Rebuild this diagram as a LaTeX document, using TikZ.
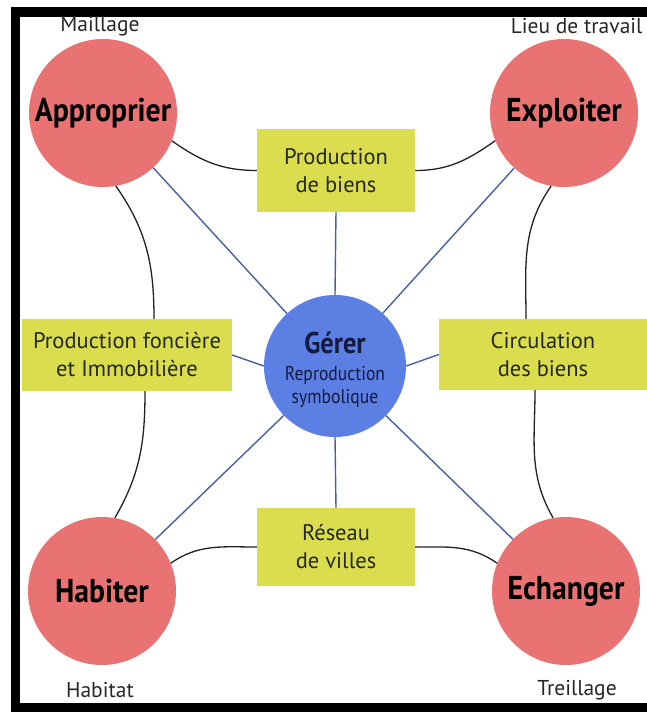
\documentclass[tikz,border=0pt]{standalone}
\usepackage{fontspec}
\setmainfont{PT Sans}
\newfontfamily\cond[FakeStretch=0.9]{PT Sans}
\newfontfamily\condg[FakeStretch=0.88]{PT Sans}
\definecolor{circred}{HTML}{E97272}
\definecolor{circblue}{HTML}{5B7FE3}
\definecolor{boxyel}{HTML}{D9DD4E}
\definecolor{linkblue}{HTML}{4A5FA0}
\definecolor{linkblack}{HTML}{222222}
\definecolor{navytext}{HTML}{151A40}
\begin{document}
\begin{tikzpicture}[x=1pt,y=-1pt,
  pole/.style={circle,fill=circred,minimum size=148pt,inner sep=0pt,text=black,
    font=\cond\bfseries\fontsize{33}{36}\selectfont},
  hub/.style={circle,fill=circblue,minimum size=142pt,inner sep=0pt},
  hubbig/.style={anchor=base,inner sep=0pt,text=navytext,font=\condg\bfseries\fontsize{30}{30}\selectfont},
  hubsmall/.style={anchor=base,inner sep=0pt,text=navytext,font=\condg\fontsize{20}{23}\selectfont},
  prodbox/.style={rectangle,fill=boxyel,inner sep=0pt,align=center,text=black!85,
    font=\fontsize{22.5}{28}\selectfont},
  corner/.style={font=\fontsize{21.5}{24}\selectfont,text=black!85},
  bluelink/.style={draw=linkblue,line width=1.4pt},
  blacklink/.style={draw=linkblack,line width=1.3pt}]
\useasboundingbox (0,0) rectangle (647,713);
% frame
\fill[black] (11,7) rectangle (647,17);
\fill[black] (11,7) rectangle (20,712);
\fill[black] (11,703) rectangle (647,712);

% nodes
\node[pole] (app) at (103,113) {Approprier};
\node[pole] (exp) at (564,113) {Exploiter};
\node[pole] (hab) at (102,591) {Habiter};
\node[pole] (ech) at (566,591) {Echanger};
\node[hub] (ger) at (335,366) {};
\node[hubbig] (gert) at (335,353) {Gérer};
\node[hubsmall] (gerr) at (335,380) {Reproduction};
\node[hubsmall] (gers) at (335,403) {symbolique};
\node[prodbox,minimum width=158pt,minimum height=83pt] (bien) at (336,170.5) {Production\\de biens};
\node[prodbox,minimum width=210pt,minimum height=72pt] (fonc) at (127,355) {Production foncière\\et Immobilière};
\node[prodbox,minimum width=208pt,minimum height=71pt] (circ) at (543,354.5) {Circulation\\des biens};
\node[prodbox,minimum width=158pt,minimum height=78pt] (res) at (336,547) {Réseau\\de villes};

% links
\draw[bluelink] (ger) -- (app);
\draw[bluelink] (ger) -- (exp);
\draw[bluelink] (ger) -- (hab);
\draw[bluelink] (ger) -- (ech);
\draw[bluelink] (ger.north) -- (bien.south);
\draw[bluelink] (ger.south) -- (res.north);
\draw[bluelink] (ger.west) -- (fonc.east);
\draw[bluelink] (ger.east) -- (circ.west);

\draw[blacklink] (app.-22) to[out=-35,in=180] (bien.west);
\draw[blacklink] (bien.east) to[out=0,in=-145] (exp.-158);
\draw[blacklink] (app.-80) to[out=-55,in=90] ([xshift=27pt]fonc.north);
\draw[blacklink] ([xshift=18pt]fonc.south) to[out=-90,in=60] (hab.80);
\draw[blacklink] (exp.-100) to[out=-125,in=90] ([xshift=-17pt]circ.north);
\draw[blacklink] ([xshift=-8pt]circ.south) to[out=-90,in=120] (ech.100);
\draw[blacklink] (hab.22) to[out=35,in=180] (res.west);
\draw[blacklink] (res.east) to[out=0,in=145] (ech.158);

% corner labels
\node[corner] (lmail) at (100,26) {Maillage};
\node[corner,anchor=east] (llieu) at (646,26) {Lieu de travail};
\node[corner] (lhab) at (100,690) {Habitat};
\node[corner] (ltre) at (577,690) {Treillage};
\end{tikzpicture}
\end{document}
